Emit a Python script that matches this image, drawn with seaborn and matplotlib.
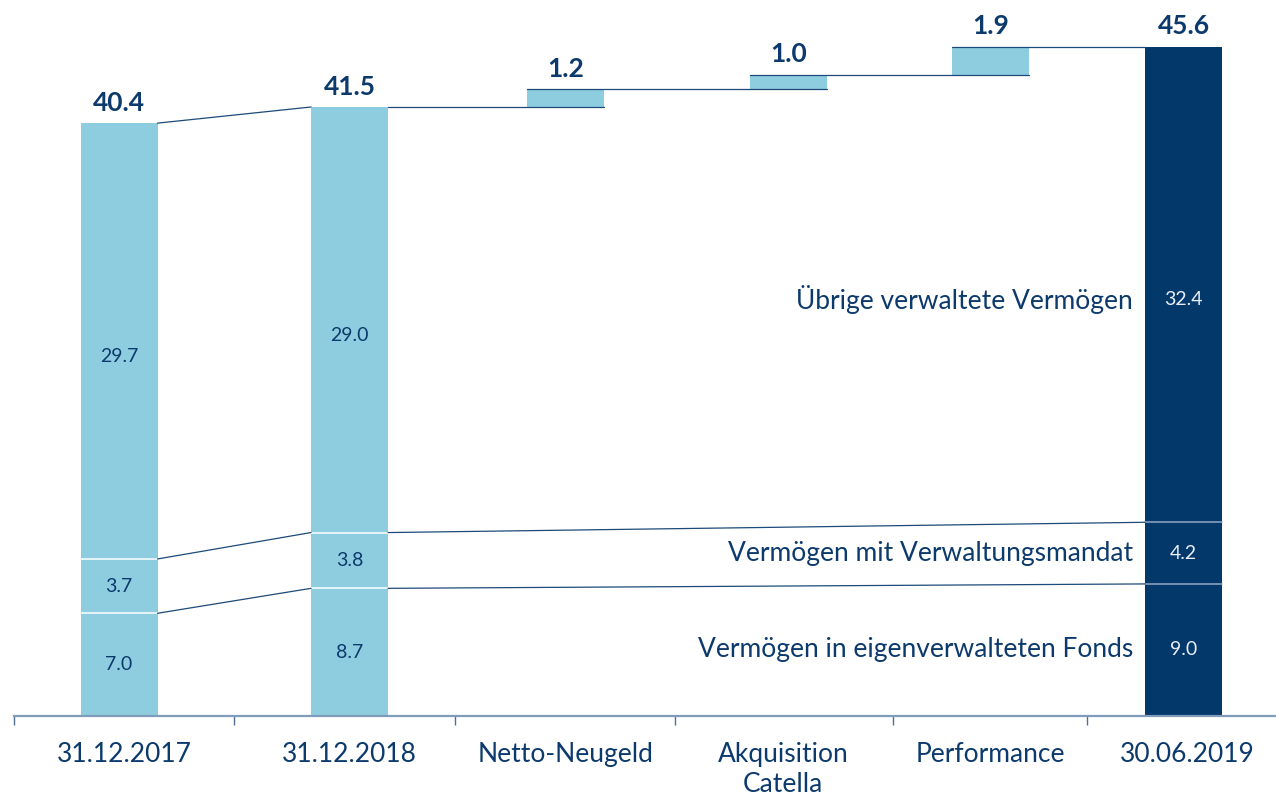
import numpy as np
import matplotlib
matplotlib.use("Agg")
import matplotlib.pyplot as plt
import seaborn as sns

# ---------------- data ----------------
categories = ["31.12.2017", "31.12.2018", "Netto-Neugeld", "Akquisition\nCatella",
              "Performance", "30.06.2019"]
stock_idx = [0, 1, 5]                 # columns that show stacked stock totals
fonds = [7.0, 8.7, 9.0]               # Vermögen in eigenverwalteten Fonds
mandat = [3.7, 3.8, 4.2]              # Vermögen mit Verwaltungsmandat
uebrige = [29.7, 29.0, 32.4]          # Übrige verwaltete Vermögen
totals = [40.4, 41.5, 45.6]
change_idx = [2, 3, 4]
changes = [1.2, 1.0, 1.9]             # Netto-Neugeld, Akquisition, Performance
segment_names = ["Vermögen in eigenverwalteten Fonds",
                 "Vermögen mit Verwaltungsmandat",
                 "Übrige verwaltete Vermögen"]

# ---------------- layout / style ----------------
W, H = 1276, 797
BASE_PX = 716          # pixel row of value 0
PX_PER_UNIT = 14.675
bar_centers = [119, 349.5, 565.5, 788.5, 990.5, 1183.5]
BAR_W = 77
label_centers = [124, 349, 566, 783, 990, 1187]
boundaries = [14, 234, 455, 675, 893, 1087]

LIGHT = "#8ecde0"
DARK = "#03386b"
NAVY = "#0c3a6c"
LINE = "#1d4a78"
AXIS = "#7f9dbb"

sns.set_style("white")
plt.rcParams["font.family"] = ["Lato", "DejaVu Sans"]

fig = plt.figure(figsize=(W / 100, H / 100), dpi=100)
ax = fig.add_axes([0, (H - BASE_PX) / H, 1, BASE_PX / H])
ax.set_xlim(0, W)
ax.set_ylim(0, BASE_PX / PX_PER_UNIT)


def draw_bars(xs, heights, bottoms, color):
    xs = np.asarray(xs, float)
    u = np.unique(xs)
    nw = np.diff(u).min() if len(u) > 1 else 1.0
    sns.barplot(x=xs, y=np.asarray(heights, float), native_scale=True,
                width=BAR_W / nw, bottom=np.asarray(bottoms, float),
                color=color, saturation=1, errorbar=None, ax=ax,
                linewidth=0)


xs_stock = [bar_centers[i] for i in stock_idx]
fonds_a = np.array(fonds)
mandat_a = np.array(mandat)
ueb_a = np.array(uebrige)
seg_bottoms = [np.zeros(3), fonds_a, fonds_a + mandat_a]
seg_heights = [fonds_a, mandat_a, ueb_a]

# light stock bars (first two) and dark final bar
for b, h in zip(seg_bottoms, seg_heights):
    draw_bars(xs_stock[:2], h[:2], b[:2], LIGHT)
    draw_bars(xs_stock[2:], h[2:], b[2:], DARK)

# floating change bars
start = totals[1]
ch_bottoms = start + np.concatenate([[0], np.cumsum(changes)[:-1]])
draw_bars([bar_centers[i] for i in change_idx], changes, ch_bottoms, LIGHT)

half = BAR_W / 2
left = [c - half for c in bar_centers]
right = [c + half for c in bar_centers]

# separators inside stock bars
for k, i in enumerate(stock_idx):
    col = "white" if i != 5 else "#8fa8c4"
    for lvl in (fonds_a[k], fonds_a[k] + mandat_a[k]):
        ax.plot([left[i], right[i]], [lvl, lvl], color=col, lw=1.1, zorder=3)

# connectors between stock bars
lvl_lists = [fonds_a, fonds_a + mandat_a, np.array(totals)]
for lv in lvl_lists:
    ax.plot([right[0], left[1]], [lv[0], lv[1]], color=LINE, lw=0.9, zorder=3)
for lv in lvl_lists[:2]:
    ax.plot([right[1], left[5]], [lv[1], lv[2]], color=LINE, lw=0.9, zorder=3)

# waterfall step lines
ax.plot([right[1], right[2]], [start, start], color=LINE, lw=0.9, zorder=3)
cum = start + np.cumsum(changes)
for k, i in enumerate(change_idx):
    x_end = right[i + 1] if i + 1 != 5 else left[5]
    ax.plot([left[i], x_end], [cum[k], cum[k]], color=LINE, lw=0.9, zorder=3)

# total labels (bold)
for k, i in enumerate(stock_idx):
    ax.annotate(f"{totals[k]:.1f}", (bar_centers[i], totals[k]), xytext=(0, 6),
                textcoords="offset points", ha="center", va="bottom",
                fontsize=19, fontweight="bold", color=NAVY)
for k, i in enumerate(change_idx):
    ax.annotate(f"{changes[k]:.1f}", (bar_centers[i], ch_bottoms[k] + changes[k]),
                xytext=(0, 6), textcoords="offset points", ha="center",
                va="bottom", fontsize=19, fontweight="bold", color=NAVY)

# inner segment labels
for k, i in enumerate(stock_idx):
    tc = NAVY if i != 5 else "#e8eef5"
    for s, (b, h) in enumerate(zip(seg_bottoms, seg_heights)):
        y = b[k] + h[k] / 2
        if s == 2:
            y -= 1.05
        ax.text(bar_centers[i], y, f"{h[k]:.1f}", ha="center", va="center",
                fontsize=14, color=tc)

# segment names to the left of the final bar
fk = 2
for s, (b, h) in enumerate(zip(seg_bottoms, seg_heights)):
    y = b[fk] + h[fk] / 2
    if s == 2:
        y -= 1.05
    ax.text(left[5] - 12, y, segment_names[s], ha="right", va="center",
            fontsize=19, color=NAVY)

# axes styling
for sp in ("left", "top", "right"):
    ax.spines[sp].set_visible(False)
ax.spines["bottom"].set_color(AXIS)
ax.spines["bottom"].set_linewidth(1.6)
ax.spines["bottom"].set_bounds(boundaries[0], W)
ax.set_yticks([])
ax.set_xticks(label_centers)
ax.set_xticklabels(categories, fontsize=19, color=NAVY, linespacing=1.25)
ax.tick_params(axis="x", which="major", length=0, pad=19, bottom=True)
ax.set_xticks(boundaries, minor=True)
ax.tick_params(axis="x", which="minor", length=6.5, width=1, color="#4f6f94",
               direction="out", bottom=True)
ax.set_xlabel("")
ax.set_ylabel("")
ax.set_xlim(0, W)
ax.set_ylim(0, BASE_PX / PX_PER_UNIT)

fig.savefig("out.png", dpi=100)
